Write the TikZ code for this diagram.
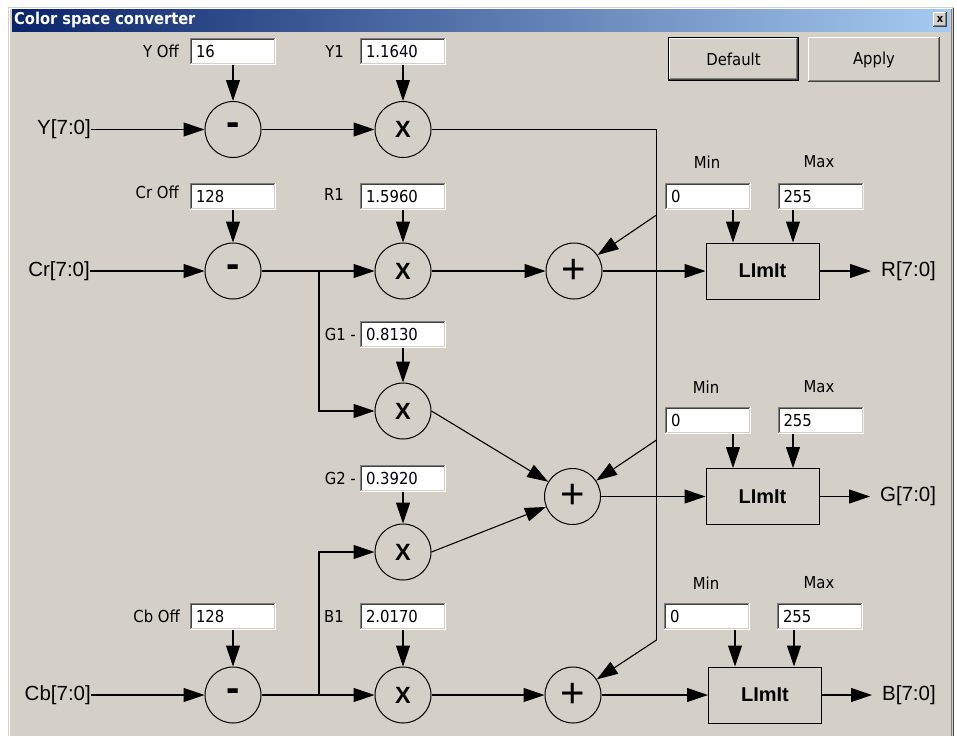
\documentclass[tikz,border=0pt]{standalone}
\usepackage{fontspec}
\usetikzlibrary{arrows.meta,calc}
\IfFontExistsTF{DejaVu Sans Condensed}{\newfontfamily\uifont{DejaVu Sans Condensed}}{\newfontfamily\uifont[Scale=0.9]{DejaVu Sans}}
\newfontfamily\sigfont{Liberation Sans}
\definecolor{winbg}{HTML}{D4D0C8}
\definecolor{gA}{HTML}{808080}
\definecolor{gB}{HTML}{404040}
\definecolor{titleL}{HTML}{0A246A}
\definecolor{titleR}{HTML}{A6CAF0}
\newcommand\bevelsunken{%
 \coordinate (ppnw) at (path picture bounding box.north west);
 \coordinate (ppse) at (path picture bounding box.south east);
 \fill[white] (ppnw) rectangle (ppse);
 \fill[gA] (ppnw) rectangle ([shift={(-1pt,1pt)}]ppse);
 \fill[winbg] ([shift={(1pt,-1pt)}]ppnw) rectangle ([shift={(-1pt,1pt)}]ppse);
 \fill[gB] ([shift={(1pt,-1pt)}]ppnw) rectangle ([shift={(-2pt,2pt)}]ppse);
 \fill[white] ([shift={(2pt,-2pt)}]ppnw) rectangle ([shift={(-2pt,2pt)}]ppse);
}
\newcommand\bevelraised[1]{%
 \coordinate (ppnw) at ([shift={(#1,-#1)}]path picture bounding box.north west);
 \coordinate (ppse) at ([shift={(-#1,#1)}]path picture bounding box.south east);
 \fill[black] (path picture bounding box.north west) rectangle (path picture bounding box.south east);
 \fill[gB] (ppnw) rectangle (ppse);
 \fill[white] (ppnw) rectangle ([shift={(-1pt,1pt)}]ppse);
 \fill[gA] ([shift={(1pt,-1pt)}]ppnw) rectangle ([shift={(-1pt,1pt)}]ppse);
 \fill[winbg] ([shift={(1pt,-1pt)}]ppnw) rectangle ([shift={(-2pt,2pt)}]ppse);
}
\tikzset{
 wire/.style={line width=1.1pt},
 conn/.style={line width=1.1pt,-{Triangle[length=21pt,width=14pt]}},
 op/.style={circle,draw,line width=1pt,minimum size=56pt,inner sep=0pt,
   font=\sigfont\bfseries\fontsize{23.5}{24}\selectfont},
 limbox/.style={rectangle,draw,line width=1pt,minimum width=113pt,minimum height=56pt,
   inner sep=0pt,font=\sigfont\bfseries\fontsize{20}{20}\selectfont},
 sig/.style={inner sep=0pt,font=\sigfont\fontsize{20.5}{21}\selectfont},
 lbl/.style={inner sep=0pt,font=\uifont\fontsize{16.5}{17}\selectfont},
 field/.style={rectangle,minimum width=86pt,minimum height=27pt,inner xsep=6pt,inner ysep=0pt,
   text width=74pt,align=left,font=\uifont\fontsize{16.5}{17}\selectfont,
   path picture={\bevelsunken}},
 button/.style={rectangle,inner sep=0pt,font=\uifont\fontsize{16.5}{17}\selectfont,
   path picture={\bevelraised{0pt}}},
 defbutton/.style={rectangle,inner sep=0pt,font=\uifont\fontsize{16.5}{17}\selectfont,
   path picture={\bevelraised{1pt}}},
}
\newcommand\plusop{{\mdseries\fontsize{42}{42}\selectfont +}}
\newcommand\minusop{{\fontsize{40}{40}\selectfont -}}
\begin{document}
\begin{tikzpicture}[x=1pt,y=-1pt]
\useasboundingbox (0,0) rectangle (957,736);
\fill[white] (0,0) rectangle (957,736);
% window
\fill[winbg] (8,7) rectangle (954,736);
\draw[white,line width=1pt] (9.5,736) -- (9.5,8.5) -- (952,8.5);
\draw[gA,line width=1pt] (951.5,8.5) -- (951.5,736);
\draw[gB,line width=1pt] (953,7.5) -- (953,736);
\shade[left color=titleL,right color=titleR] (12,9) rectangle (950,31);
\node[anchor=west,text=white,inner sep=0pt,font=\uifont\bfseries\fontsize{16.3}{16}\selectfont] (title) at (14,20) {Color space converter};
\node[button,minimum width=14pt,minimum height=15pt,font=\uifont\bfseries\fontsize{11}{11}\selectfont] (close) at (940,19.5) {x};
\node[defbutton,minimum width=131pt,minimum height=44pt] (default) at (733.5,59) {Default};
\node[button,minimum width=132pt,minimum height=45pt] (apply) at (874,59.5) {Apply};

% ---- Y row
\node[sig,anchor=east] (yin) at (91,129.5) {Y[7:0]};
\node[op] (ysub) at (233,129.5) {\minusop};
\node[op] (ymul) at (403,129.5) {X};
\node[field] (yoff) at (233,51.5) {16};
\node[lbl,anchor=east] (yoffl) at (179,51) {Y Off};
\node[field] (y1) at (403,51.5) {1.1640};
\node[lbl,anchor=east] (y1l) at (344,51) {Y1};

% ---- Cr row
\node[sig,anchor=east] (crin) at (90,271) {Cr[7:0]};
\node[op] (crsub) at (233,271) {\minusop};
\node[op] (rmul) at (403,271) {X};
\node[op] (radd) at (574,271) {\plusop};
\node[field] (croff) at (233,196) {128};
\node[lbl,anchor=east] (croffl) at (179,192) {Cr Off};
\node[field] (r1) at (403,196) {1.5960};
\node[lbl,anchor=east] (r1l) at (344,194) {R1};

% ---- G
\node[op] (g1mul) at (403,411) {X};
\node[field] (g1) at (403,334.5) {0.8130};
\node[lbl,anchor=east] (g1l) at (356,334.5) {G1 -};
\node[op] (g2mul) at (403,552) {X};
\node[field] (g2) at (403,478) {0.3920};
\node[lbl,anchor=east] (g2l) at (356,478) {G2 -};
\node[op] (gadd) at (572.5,496.5) {\plusop};

% ---- Cb row
\node[sig,anchor=east] (cbin) at (91,695) {Cb[7:0]};
\node[op] (cbsub) at (233,695) {\minusop};
\node[op] (bmul) at (403,695) {X};
\node[op] (badd) at (573,695) {\plusop};
\node[field] (cboff) at (233,616.5) {128};
\node[lbl,anchor=east] (cboffl) at (180,616.5) {Cb Off};
\node[field] (b1) at (403,616.5) {2.0170};
\node[lbl,anchor=east] (b1l) at (344,616.5) {B1};

% ---- Limit blocks
\node[limbox] (rlim) at (762.5,271) {LImIt};
\node[field] (rmin) at (708,196) {0};
\node[field] (rmax) at (820.5,196) {255};
\node[lbl] (rminl) at (707,162) {Min};
\node[lbl] (rmaxl) at (819,162) {Max};
\node[sig,anchor=west] (rout) at (881,271) {R[7:0]};

\node[limbox] (glim) at (762.5,496.5) {LImIt};
\node[field] (gmin) at (708,420.5) {0};
\node[field] (gmax) at (820.5,420.5) {255};
\node[lbl] (gminl) at (706,387) {Min};
\node[lbl] (gmaxl) at (819,387) {Max};
\node[sig,anchor=west] (gout) at (880,496.5) {G[7:0]};

\node[limbox] (blim) at (765,695) {LImIt};
\node[field] (bmin) at (707,616.5) {0};
\node[field] (bmax) at (820,616.5) {255};
\node[lbl] (bminl) at (706,583) {Min};
\node[lbl] (bmaxl) at (819,583) {Max};
\node[sig,anchor=west] (bout) at (882,695) {B[7:0]};

% ---- coordinates
\coordinate (ycorner) at (656.5,129.5);
\coordinate (rb) at (656.5,215);
\coordinate (gb) at (656.5,440);
\coordinate (bb) at (656.5,640);
\coordinate (crb) at (319,271);
\coordinate (crd) at (319,411);
\coordinate (cbb) at (319,695);
\coordinate (cbu) at (319,552);

% ---- connectors
\draw[conn] (yin) -- (ysub);
\draw[conn] (ysub) -- (ymul);
\draw[conn] (yoff) -- (ysub);
\draw[conn] (y1) -- (ymul);
\draw[wire] (ymul) -- (ycorner) -- (bb);
\draw[conn] (rb) -- (radd);
\draw[conn] (gb) -- (gadd);
\draw[conn] (bb) -- (badd);

\draw[conn] (crin) -- (crsub);
\draw[conn] (crsub) -- (rmul);
\draw[conn] (croff) -- (crsub);
\draw[conn] (r1) -- (rmul);
\draw[conn] (crb) -- (crd) -- (g1mul);
\draw[conn] (rmul) -- (radd);
\draw[conn] (radd) -- (rlim);

\draw[conn] (g1) -- (g1mul);
\draw[conn] (g2) -- (g2mul);
\draw[conn] (g1mul.east) -- (gadd);
\draw[conn] (g2mul.east) -- (gadd);
\draw[conn] (gadd) -- (glim);

\draw[conn] (cbin) -- (cbsub);
\draw[conn] (cbsub) -- (bmul);
\draw[conn] (cboff) -- (cbsub);
\draw[conn] (b1) -- (bmul);
\draw[conn] (cbb) -- (cbu) -- (g2mul);
\draw[conn] (bmul) -- (badd);
\draw[conn] (badd) -- (blim);

\draw[conn] (733,0 |- rmin.south) -- (733,0 |- rlim.north);
\draw[conn] (793,0 |- rmax.south) -- (793,0 |- rlim.north);
\draw[conn] (733,0 |- gmin.south) -- (733,0 |- glim.north);
\draw[conn] (793,0 |- gmax.south) -- (793,0 |- glim.north);
\draw[conn] (735,0 |- bmin.south) -- (735,0 |- blim.north);
\draw[conn] (794,0 |- bmax.south) -- (794,0 |- blim.north);

\draw[conn,shorten >=10pt] (rlim) -- (rout);
\draw[conn,shorten >=10pt] (glim) -- (gout);
\draw[conn,shorten >=10pt] (blim) -- (bout);
\end{tikzpicture}
\end{document}
